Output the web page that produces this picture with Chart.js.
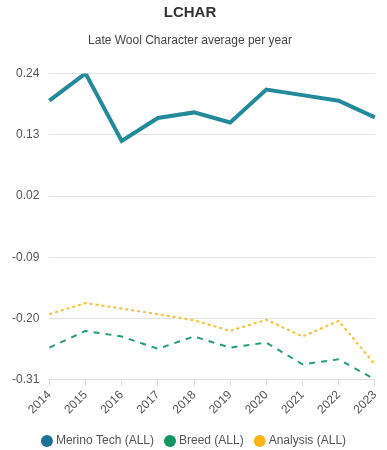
<!DOCTYPE html>
<html><head><meta charset="utf-8">
<script src="https://cdn.jsdelivr.net/npm/chart.js@4"></script>
<style>html,body{margin:0;padding:0;background:#fff}#wrap{width:387px;height:450px}</style>
</head><body><div id="wrap"><canvas id="c"></canvas></div>
<script>
const years = ['2014','2015','2016','2017','2018','2019','2020','2021','2022','2023'];
const merinoTech = [0.191, 0.240, 0.119, 0.160, 0.170, 0.152, 0.211, 0.201, 0.191, 0.161];
const breed = [-0.252, -0.222, -0.232, -0.254, -0.232, -0.252, -0.243, -0.282, -0.273, -0.309];
const analysis = [-0.192, -0.172, -0.182, -0.192, -0.203, -0.222, -0.202, -0.232, -0.204, -0.282];
const yTicks = [-0.31, -0.20, -0.09, 0.02, 0.13, 0.24];

Chart.defaults.font.family = '"Liberation Sans", Arial, sans-serif';
const legendFit = {
  id: 'legendFit',
  beforeInit(chart) {
    const lg = chart.legend;
    const orig = lg.fit;
    lg.fit = function () { orig.call(this); this.height -= 4; };
    const origDraw = lg.draw;
    lg.draw = function () {
      this.top += 3; this.left += 5; this.right += 5;
      origDraw.call(this);
      this.top -= 3; this.left -= 5; this.right -= 5;
    };
  }
};
new Chart(document.getElementById('c'), {
  type: 'line',
  data: {
    labels: years,
    datasets: [
      {label: 'Merino Tech (ALL)', data: merinoTech, borderColor: '#238a9c', backgroundColor: '#1a7394', borderWidth: 4, pointRadius: 0, tension: 0},
      {label: 'Breed (ALL)', data: breed, borderColor: '#22a06f', backgroundColor: '#13955f', borderWidth: 2, borderDash: [6, 6], pointRadius: 0, tension: 0},
      {label: 'Analysis (ALL)', data: analysis, borderColor: '#fbc02d', backgroundColor: '#fbb515', borderWidth: 2, borderDash: [3, 3], pointRadius: 0, tension: 0}
    ]
  },
  plugins: [legendFit],
  options: {
    responsive: true, maintainAspectRatio: false, animation: false,
    layout: {padding: {left: 2, right: 9, top: 0, bottom: 0}},
    plugins: {
      title: {display: true, text: 'LCHAR', color: '#333', font: {size: 15, weight: 'bold'}, padding: {top: 4, bottom: 7}},
      subtitle: {display: true, text: 'Late Wool Character average per year', color: '#444', font: {size: 12}, padding: {top: 4, bottom: 26}},
      legend: {position: 'bottom', labels: {
        usePointStyle: true, pointStyle: 'circle', boxWidth: 6, boxHeight: 8.5, color: '#555', font: {size: 12}, padding: 13,
        generateLabels: (chart) => Chart.defaults.plugins.legend.labels.generateLabels(chart).map(l => Object.assign(l, {lineWidth: 0, lineDash: []}))
      }},
      tooltip: {enabled: false}
    },
    scales: {
      x: {
        grid: {display: true, drawOnChartArea: false, drawTicks: true, tickLength: 6, color: '#ddd'},
        border: {display: true, color: '#ddd'},
        ticks: {color: '#555', font: {size: 12}, maxRotation: 45, minRotation: 45, padding: 2}
      },
      y: {
        min: -0.31, max: 0.24,
        afterBuildTicks: (s) => { s.ticks = yTicks.map(v => ({value: v})); },
        grid: {color: '#e4e4e4', drawTicks: false},
        border: {display: false},
        ticks: {color: '#555', font: {size: 12}, padding: 10, callback: (v) => v.toFixed(2)}
      }
    }
  }
});
</script></body></html>
